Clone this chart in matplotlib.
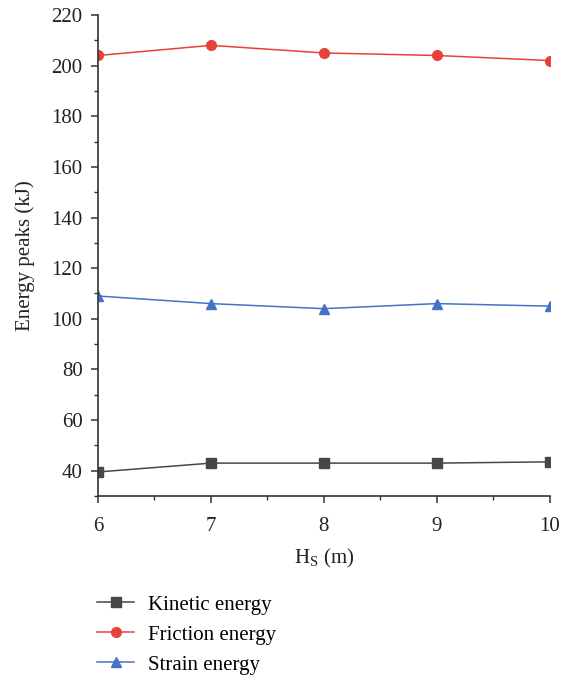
import matplotlib.pyplot as plt
from matplotlib.ticker import MultipleLocator

plt.rcParams['font.family'] = ['Liberation Serif', 'DejaVu Serif']
plt.rcParams['mathtext.fontset'] = 'custom'
plt.rcParams['mathtext.rm'] = 'Liberation Serif'

hs = [6, 7, 8, 9, 10]
kinetic = [39.5, 43, 43, 43, 43.5]
friction = [204, 208, 205, 204, 202]
strain = [109, 106, 104, 106, 105]

fig = plt.figure(figsize=(5.61, 6.78), dpi=100)
ax = fig.add_axes([0.1747, 0.2684, 0.8053, 0.7095])

ax.plot(hs, kinetic, color='#474747', marker='s', markersize=6.5, lw=1.1,
        label='Kinetic energy')
ax.plot(hs, friction, color='#e8403a', marker='o', markersize=7, lw=1.1,
        label='Friction energy')
ax.plot(hs, strain, color='#4472c4', marker='^', markersize=7.5, lw=1.1,
        label='Strain energy')

ax.set_xlim(6, 10)
ax.set_ylim(30, 220)
ax.xaxis.set_major_locator(MultipleLocator(1))
ax.xaxis.set_minor_locator(MultipleLocator(0.5))
ax.yaxis.set_minor_locator(MultipleLocator(10))
ax.set_yticks(range(40, 221, 20))

for side in ('top', 'right'):
    ax.spines[side].set_visible(False)
for side in ('left', 'bottom'):
    ax.spines[side].set_color('#333333')
    ax.spines[side].set_linewidth(1.2)

ax.tick_params(which='major', length=5, width=1.1, color='#333333',
               labelsize=15, pad=6, labelcolor='#222222')
ax.tick_params(axis='x', which='major', pad=10)
ax.tick_params(which='minor', length=3, width=1.0, color='#333333')

ax.set_xlabel(r'H$_\mathrm{S}$ (m)', fontsize=15, labelpad=8, color='#222222')
ax.set_ylabel('Energy peaks (kJ)', fontsize=15, labelpad=12, color='#222222')

handles, labels = ax.get_legend_handles_labels()
fig.legend(handles, labels, loc='upper left', bbox_to_anchor=(0.14, 0.15),
           frameon=False, fontsize=15, handlelength=1.75, handletextpad=0.7,
           labelspacing=0.5)

fig.savefig('out.png', dpi=100)
